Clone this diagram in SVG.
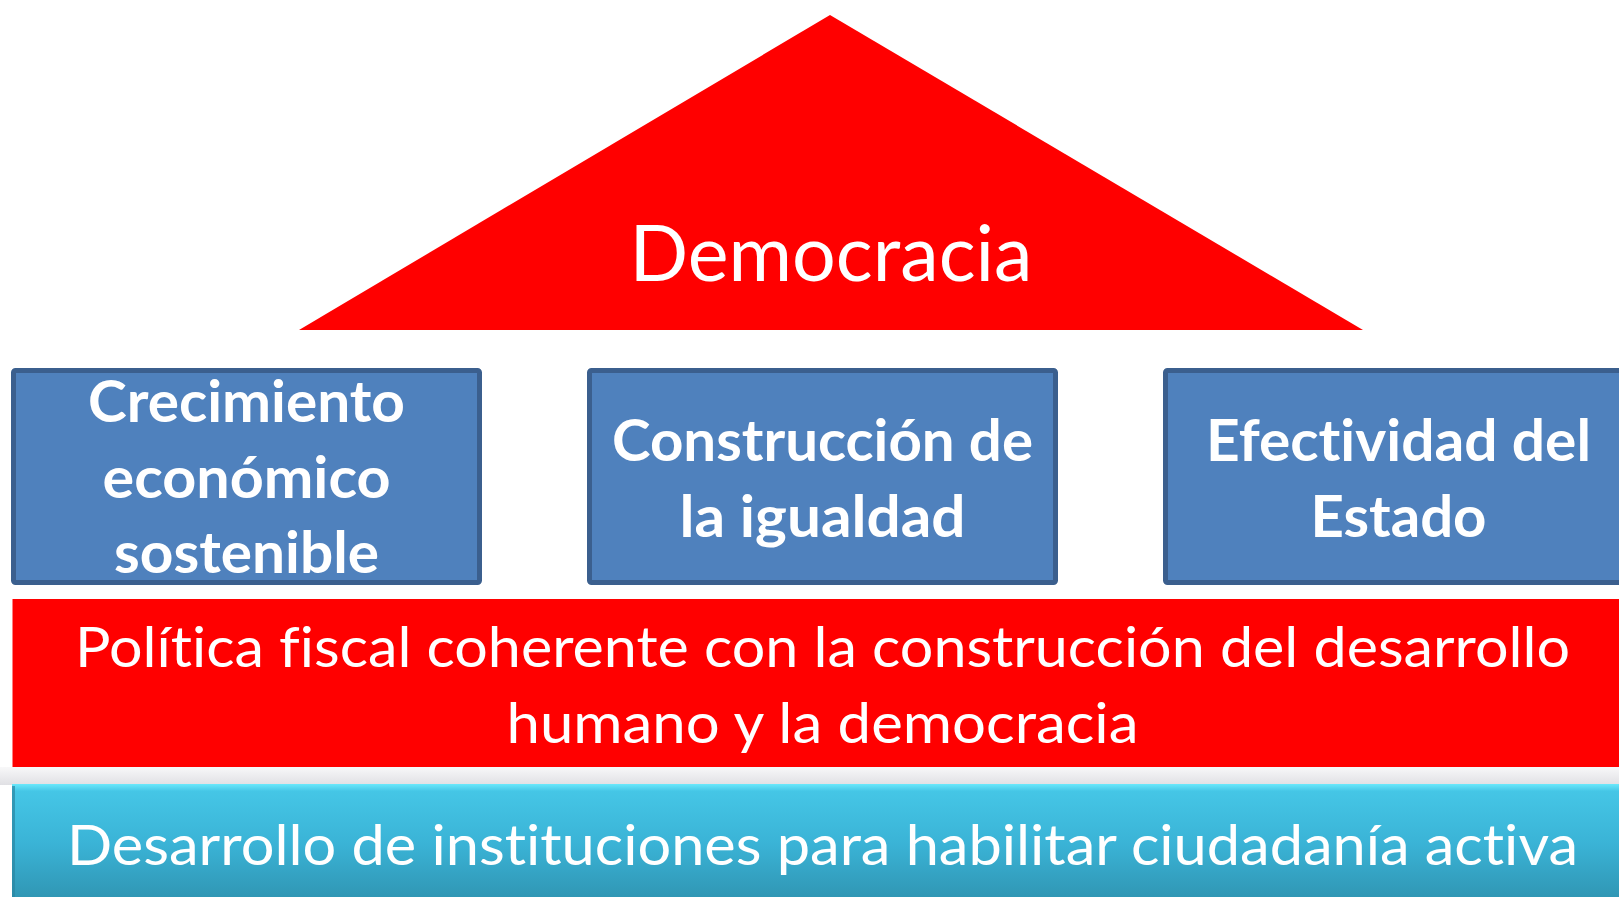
<svg xmlns="http://www.w3.org/2000/svg" width="1619" height="897" viewBox="0 0 1619 897">
  <defs>
    <linearGradient id="cyanGrad" x1="0" y1="0" x2="0" y2="1">
      <stop offset="0" stop-color="#6ae8fb"/>
      <stop offset="0.06" stop-color="#45c6e6"/>
      <stop offset="0.5" stop-color="#3ab3d6"/>
      <stop offset="1" stop-color="#2f93b0"/>
    </linearGradient>
    <linearGradient id="gapGrad" x1="0" y1="0" x2="0" y2="1">
      <stop offset="0" stop-color="#f8f8f9"/>
      <stop offset="1" stop-color="#e0e0e4"/>
    </linearGradient>
    <style>
      text { font-variant-ligatures: none; font-feature-settings: "liga" 0; }
      .pillar { fill: #4f81bd; stroke: #3b5f8e; stroke-width: 5; }
      .ptext { font-family: Lato, "Open Sans", "Liberation Sans", sans-serif; font-weight: bold; font-size: 57px; fill: #ffffff; text-anchor: middle; }
      .btext { font-family: Lato, "Open Sans", "Liberation Sans", sans-serif; font-size: 57px; fill: #ffffff; text-anchor: middle; }
    </style>
  </defs>
  <rect width="1619" height="897" fill="#ffffff"/>
  <rect x="0" y="767" width="1619" height="18" fill="url(#gapGrad)"/>

  <g id="democracia">
    <polygon points="830,15 1363,330 299,330" fill="#ff0000"/>
    <text x="831" y="281" font-family="Lato, 'Open Sans', 'Liberation Sans', sans-serif" font-size="78" fill="#ffffff" text-anchor="middle" textLength="403" lengthAdjust="spacingAndGlyphs">Democracia</text>
  </g>

  <g id="crecimiento">
    <rect class="pillar" x="13.5" y="370.5" width="466" height="212" rx="2"/>
    <text class="ptext" x="246.5" y="422" textLength="317" lengthAdjust="spacingAndGlyphs">Crecimiento</text>
    <text class="ptext" x="246.5" y="498" textLength="288" lengthAdjust="spacingAndGlyphs">económico</text>
    <text class="ptext" x="246.5" y="573" textLength="265" lengthAdjust="spacingAndGlyphs">sostenible</text>
  </g>

  <g id="igualdad">
    <rect class="pillar" x="589.5" y="370.5" width="466" height="212" rx="2"/>
    <text class="ptext" x="822.5" y="461" textLength="421" lengthAdjust="spacingAndGlyphs">Construcción de</text>
    <text class="ptext" x="822.5" y="537" textLength="286" lengthAdjust="spacingAndGlyphs">la igualdad</text>
  </g>

  <g id="efectividad">
    <rect class="pillar" x="1165.5" y="370.5" width="466" height="212" rx="2"/>
    <text class="ptext" x="1398.5" y="461" textLength="385" lengthAdjust="spacingAndGlyphs">Efectividad del</text>
    <text class="ptext" x="1398.5" y="537" textLength="176" lengthAdjust="spacingAndGlyphs">Estado</text>
  </g>

  <g id="politica-fiscal">
    <rect x="12.5" y="599" width="1621" height="168" fill="#ff0000"/>
    <text class="btext" x="822.5" y="667" textLength="1495" lengthAdjust="spacingAndGlyphs">Política fiscal coherente con la construcción del desarrollo</text>
    <text class="btext" x="822.5" y="743" textLength="632" lengthAdjust="spacingAndGlyphs">humano y la democracia</text>
  </g>

  <g id="instituciones">
    <rect x="12" y="784" width="1622" height="120" fill="url(#cyanGrad)"/>
    <rect x="12" y="786" width="3" height="118" fill="#2a86a3" opacity="0.7"/>
    <text class="btext" x="822.5" y="865" textLength="1511" lengthAdjust="spacingAndGlyphs">Desarrollo de instituciones para habilitar ciudadanía activa</text>
  </g>

  <g id="connectors"></g>
</svg>
